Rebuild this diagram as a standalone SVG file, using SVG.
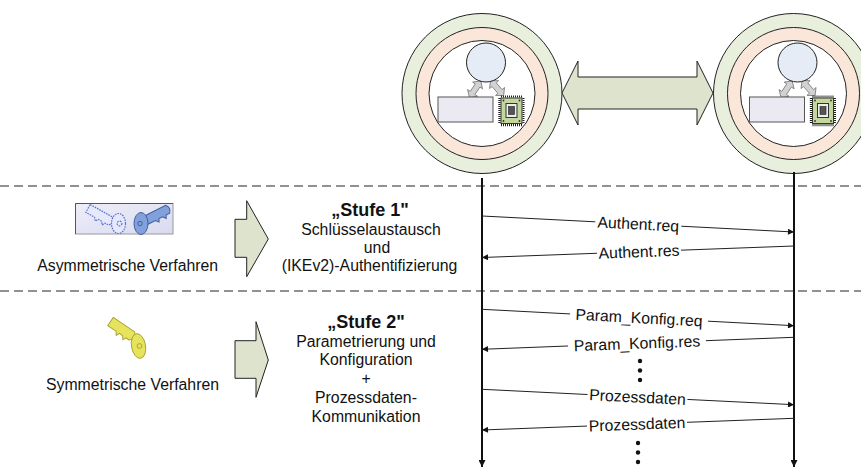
<svg xmlns="http://www.w3.org/2000/svg" xmlns:xlink="http://www.w3.org/1999/xlink" width="861" height="468" viewBox="0 0 861 468">
  <style>
    .txt { font-family: "Liberation Sans", Arial, sans-serif; font-size: 15.8px; fill: #111; text-anchor: middle; }
    .ttl { font-family: "Liberation Sans", Arial, sans-serif; font-size: 18px; font-weight: bold; fill: #111; text-anchor: middle; }
    .sep { stroke: #6e6e6e; stroke-width: 1.4; stroke-dasharray: 9 5; fill: none; }
    .life { stroke: #111; stroke-width: 2; fill: none; marker-end: url(#headDown); }
    .msg { stroke: #222; stroke-width: 1; fill: none; marker-end: url(#head); }
    .lblbg { fill: #fff; }
    .block { fill: #dee3cd; stroke: #222; stroke-width: 1; }
    .dot { fill: #111; }
    .link { fill: #d2d2d2; stroke: #7a7a7a; stroke-width: 0.8; }
  </style>
  <defs>
    <marker id="head" viewBox="0 0 10 10" refX="10" refY="5" markerWidth="8" markerHeight="6" markerUnits="userSpaceOnUse" orient="auto">
      <path d="M0,0 L10,5 L0,10 z" fill="#111"/>
    </marker>
    <marker id="headDown" viewBox="0 0 10 10" refX="10" refY="5" markerWidth="9" markerHeight="7" markerUnits="userSpaceOnUse" orient="auto">
      <path d="M0,0 L10,5 L0,10 z" fill="#111"/>
    </marker>
    <linearGradient id="keyBox" x1="0" y1="0" x2="1" y2="1">
      <stop offset="0" stop-color="#eeeef9"/>
      <stop offset="1" stop-color="#d9daef"/>
    </linearGradient>
    <!-- double-headed link arrow along +x, length 20 -->
    <path id="linkArrow" d="M0,0 L5.5,-6 L5.5,-2.8 L14.5,-2.8 L14.5,-6 L20,0 L14.5,6 L14.5,2.8 L5.5,2.8 L5.5,6 z"/>
    <!-- key blade along +x -->
    <path id="blade" d="M0,-4.5 L26,-4.5 Q30,0 26,4.5 L22,4.5 L20.5,7.5 L18,4.5 L14,4.5 L12.5,7.5 L10,4.5 L0,4.5 z"/>
    <!-- device inside a node: host circle, memory block, chip and links -->
    <g id="device">
      <circle cx="0" cy="0" r="80" fill="#e9efdd" stroke="#222" stroke-width="1"/>
      <circle cx="0" cy="0" r="66" fill="#fbe7da" stroke="#222" stroke-width="1"/>
      <circle cx="0" cy="0" r="53" fill="#fff" stroke="#222" stroke-width="1"/>
      <use xlink:href="#linkArrow" href="#linkArrow" class="link" transform="translate(-12.5,4) rotate(-56)"/>
      <use xlink:href="#linkArrow" href="#linkArrow" class="link" transform="translate(8.5,-13) rotate(49)"/>
      <circle cx="4" cy="-31" r="19.5" fill="#e6ecf5" stroke="#222" stroke-width="1"/>
      <rect x="-44" y="3.5" width="55" height="25" fill="#ebeaf2" stroke="#555" stroke-width="1"/>
      <!-- chip -->
      <line x1="17.5" y1="4.5" x2="17.5" y2="30" stroke="#222" stroke-width="2.4" stroke-dasharray="1 1"/>
      <line x1="19" y1="31.5" x2="41" y2="31.5" stroke="#222" stroke-width="2.4" stroke-dasharray="1 1"/>
      <line x1="41.5" y1="4.5" x2="41.5" y2="30" stroke="#222" stroke-width="2" stroke-dasharray="1 1"/>
      <line x1="19" y1="3" x2="40" y2="3" stroke="#222" stroke-width="2" stroke-dasharray="1 1"/>
      <rect x="19" y="4.5" width="21" height="25.5" fill="#c4d79d" stroke="#333" stroke-width="1"/>
      <rect x="24" y="10" width="11" height="14" fill="#eeeeee" stroke="#333" stroke-width="1"/>
      <rect x="26.5" y="13" width="6" height="8" fill="#555" stroke="#222" stroke-width="0.6"/>
      <circle cx="21.5" cy="7" r="0.9" fill="#333"/>
      <circle cx="37.5" cy="7" r="0.9" fill="#333"/>
      <circle cx="21.5" cy="27.5" r="0.9" fill="#333"/>
      <circle cx="37.5" cy="27.5" r="0.9" fill="#333"/>
    </g>
  </defs>

  <!-- phase separators -->
  <line class="sep" x1="0" y1="186" x2="861" y2="186"/>
  <line class="sep" x1="0" y1="291" x2="861" y2="291"/>

  <!-- nodes -->
  <g id="node-left">
    <use xlink:href="#device" href="#device" transform="translate(482,93.5)"/>
  </g>
  <g id="node-right">
    <use xlink:href="#device" href="#device" transform="translate(793.5,93.5)"/>
  </g>
  <g id="link">
    <path class="block" d="M562,93 L578,61 L578,77 L697,77 L697,61 L713,93 L697,125 L697,109 L578,109 L578,125 z"/>
  </g>

  <!-- stage 1 -->
  <g id="asym">
    <rect x="75.5" y="203.5" width="97.5" height="30.5" fill="url(#keyBox)" stroke="#999" stroke-width="1"/>
    <path d="M75.5,234 L75.5,203.5 L173,203.5" fill="none" stroke="#555" stroke-width="1"/>
    <!-- public key, dotted outline -->
    <g fill="#e6e9fb" stroke="#5a6fd2" stroke-width="1.2" stroke-dasharray="1.6 1">
      <use xlink:href="#blade" href="#blade" transform="translate(88,208.5) rotate(29)"/>
      <ellipse cx="118.5" cy="223.5" rx="7" ry="10"/>
      <circle cx="119.5" cy="223.5" r="2.4" fill="none"/>
    </g>
    <!-- private key, solid -->
    <g fill="#82a0da" stroke="#3f5f9e" stroke-width="1">
      <use xlink:href="#blade" href="#blade" transform="translate(144.5,221) rotate(-27)"/>
      <ellipse cx="141" cy="223.5" rx="7" ry="11"/>
      <circle cx="140" cy="223.5" r="2.2" fill="none"/>
    </g>
    <text class="txt" x="127.7" y="271">Asymmetrische Verfahren</text>
  </g>
  <g id="stage1-arrow">
    <path class="block" d="M235,219.3 L246.7,219.3 L246.7,200.7 L268.3,239 L246.7,276.7 L246.7,257.3 L235,257.3 z"/>
  </g>
  <g id="stage1">
    <text class="ttl" x="370" y="216">„Stufe 1"</text>
    <text class="txt" x="371" y="235">Schlüsselaustausch</text>
    <text class="txt" x="377" y="253">und</text>
    <text class="txt" x="369.5" y="271">(IKEv2)-Authentifizierung</text>
  </g>

  <!-- stage 2 -->
  <g id="sym">
    <g fill="#e6e45c" stroke="#a59d2e" stroke-width="0.9">
      <use xlink:href="#blade" href="#blade" transform="translate(110.5,321.5) rotate(34) scale(1,1.1)"/>
      <ellipse cx="138.5" cy="346" rx="7" ry="12.5" transform="rotate(-10 138.5 346)"/>
      <circle cx="139.5" cy="346" r="2.4" fill="none"/>
    </g>
    <text class="txt" x="132.5" y="390">Symmetrische Verfahren</text>
  </g>
  <g id="stage2-arrow">
    <path class="block" d="M235,340.7 L256,340.7 L256,321.7 L268.3,360 L256,397.3 L256,378.3 L235,378.3 z"/>
  </g>
  <g id="stage2">
    <text class="ttl" x="366" y="327.5">„Stufe 2"</text>
    <text class="txt" x="366" y="346.5">Parametrierung und</text>
    <text class="txt" x="366" y="365">Konfiguration</text>
    <text class="txt" x="366" y="384">+</text>
    <text class="txt" x="366" y="403.3">Prozessdaten-</text>
    <text class="txt" x="366" y="421.7">Kommunikation</text>
  </g>

  <!-- lifelines and messages -->
  <g id="connectors">
    <line class="life" x1="482" y1="178" x2="482" y2="467"/>
    <line class="life" x1="794" y1="172" x2="794" y2="467"/>

    <line class="msg" x1="482" y1="216" x2="794" y2="232"/>
    <line class="msg" x1="794" y1="246" x2="482" y2="257.5"/>
    <line class="msg" x1="482" y1="309.3" x2="794" y2="325.7"/>
    <line class="msg" x1="794" y1="337.3" x2="482" y2="349.3"/>
    <line class="msg" x1="482" y1="389.3" x2="794" y2="404.7"/>
    <line class="msg" x1="794" y1="418.3" x2="482" y2="430"/>

    <g transform="translate(638.3,224) rotate(2.94)">
      <rect class="lblbg" x="-43" y="-7" width="86" height="14"/>
      <text class="txt" x="0" y="5.5">Authent.req</text>
    </g>
    <g transform="translate(639,251.7) rotate(-2.11)">
      <rect class="lblbg" x="-42" y="-7" width="84" height="14"/>
      <text class="txt" x="0" y="5.5">Authent.res</text>
    </g>
    <g transform="translate(639,317.6) rotate(3.01)">
      <rect class="lblbg" x="-69" y="-7" width="138" height="14"/>
      <text class="txt" x="0" y="5.5">Param_Konfig.req</text>
    </g>
    <g transform="translate(637,343.3) rotate(-2.2)">
      <rect class="lblbg" x="-69" y="-7" width="138" height="14"/>
      <text class="txt" x="0" y="5.5">Param_Konfig.res</text>
    </g>
    <g transform="translate(637.5,397) rotate(2.83)">
      <rect class="lblbg" x="-50" y="-7" width="100" height="14"/>
      <text class="txt" x="0" y="5.5">Prozessdaten</text>
    </g>
    <g transform="translate(637,424.2) rotate(-2.15)">
      <rect class="lblbg" x="-50" y="-7" width="100" height="14"/>
      <text class="txt" x="0" y="5.5">Prozessdaten</text>
    </g>

    <circle class="dot" cx="640" cy="361" r="2.2"/>
    <circle class="dot" cx="640" cy="370.5" r="2.2"/>
    <circle class="dot" cx="640" cy="380" r="2.2"/>
    <circle class="dot" cx="638" cy="443" r="2.2"/>
    <circle class="dot" cx="638" cy="452.5" r="2.2"/>
    <circle class="dot" cx="638" cy="462" r="2.2"/>
  </g>
</svg>
